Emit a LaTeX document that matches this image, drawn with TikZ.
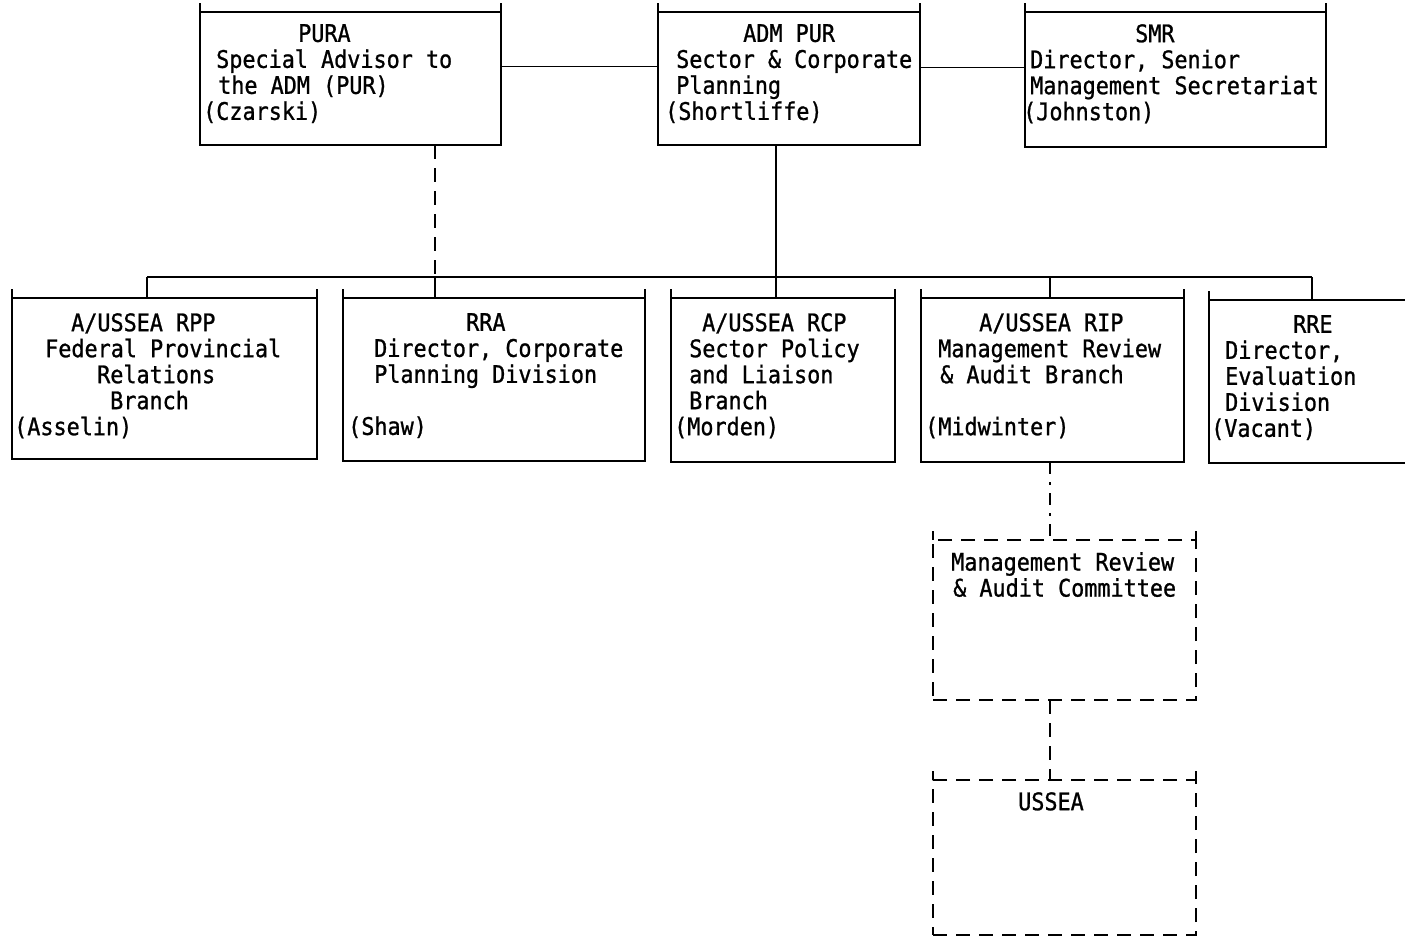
\documentclass[tikz,border=0pt]{standalone}
\usepackage{fontspec}
\setmonofont[FakeStretch=0.9, FakeBold=1]{DejaVu Sans Mono}
\usetikzlibrary{positioning,calc}
\newcommand{\tb}[1]{\hspace*{#1pt}}

\begin{document}
\begin{tikzpicture}[
    x=1pt, y=-1pt,
    font=\ttfamily\fontsize{24.2}{26}\selectfont,
    orgbox/.style={draw, line width=1.8pt, inner sep=0pt, outer sep=0pt, anchor=north west},
    orgboxdash/.style={orgbox, dash pattern=on 14pt off 9pt},
    boxtext/.style={anchor=north west, align=left, inner sep=0pt},
    link/.style={line width=1.8pt},
    dashlink/.style={link, dash pattern=on 14pt off 9pt},
    dotlink/.style={link, dash pattern=on 12pt off 8pt on 3pt off 8pt}
]
    \useasboundingbox (0,0) rectangle (1405,938);

    % Top row
    \node[orgbox, minimum width=301pt, minimum height=133pt] (pura) at (200,12) {};
    \node[orgbox, minimum width=262pt, minimum height=133pt] (admpur) at (658,12) {};
    \node[orgbox, minimum width=301pt, minimum height=135pt] (smr) at (1025,12) {};

    \node[boxtext] (puratext) at (203,24) {\tb{95}PURA\\\tb{13}Special Advisor to\\\tb{15}the ADM (PUR)\\(Czarski)};
    \node[boxtext] (admpurtext) at (665,24) {\tb{78}ADM PUR\\\tb{11}Sector \& Corporate\\\tb{11}Planning\\(Shortliffe)};
    \node[boxtext] (smrtext) at (1023,24) {\tb{112}SMR\\\tb{7}Director, Senior\\\tb{7}Management Secretariat\\(Johnston)};

    % Bottom row
    \node[orgbox, minimum width=305pt, minimum height=161pt] (rpp) at (12,298) {};
    \node[orgbox, minimum width=302pt, minimum height=163pt] (rra) at (343,298) {};
    \node[orgbox, minimum width=224pt, minimum height=164pt] (rcp) at (671,298) {};
    \node[orgbox, minimum width=263pt, minimum height=164pt] (rip) at (921,298) {};
    \node[orgbox, minimum width=210pt, minimum height=163pt] (rre) at (1209,300) {};

    \node[boxtext] (rpptext) at (14,313) {\tb{57}A/USSEA RPP\\\tb{31}Federal Provincial\\\tb{83}Relations\\\tb{96}Branch\\(Asselin)};
    \node[boxtext] (rratext) at (348,313) {\tb{118}RRA\\\tb{26}Director, Corporate\\\tb{26}Planning Division\\[26pt](Shaw)};
    \node[boxtext] (rcptext) at (674,313) {\tb{28}A/USSEA RCP\\\tb{15}Sector Policy\\\tb{15}and Liaison\\\tb{15}Branch\\(Morden)};
    \node[boxtext] (riptext) at (925,313) {\tb{54}A/USSEA RIP\\\tb{13}Management Review\\\tb{15}\& Audit Branch\\[26pt](Midwinter)};
    \node[boxtext] (rretext) at (1211,315) {\tb{82}RRE\\\tb{14}Director,\\\tb{14}Evaluation\\\tb{14}Division\\(Vacant)};

    % Committee and USSEA
    \node[orgboxdash, minimum width=263pt, minimum height=160pt] (mrac) at (933,540) {};
    \node[orgboxdash, minimum width=263pt, minimum height=155pt] (ussea) at (933,780) {};

    \node[boxtext] (mractext) at (951,552) {Management Review\\\tb{2}\& Audit Committee};
    \node[boxtext] (usseatext) at (1018,792) {USSEA};

    % corner ticks
    \foreach \b in {pura,admpur,smr,rpp,rra,rcp,rip,rre,mrac,ussea}
        \draw[link] (\b.north west) -- ++(0,-9) (\b.north east) -- ++(0,-9);

    % Links
    \coordinate (busL) at (147,277);
    \coordinate (busR) at (1312,277);
    \coordinate (pdrop) at (435,277);
    \coordinate (adrop) at (776,277);
    \coordinate (rdrop) at (1050,277);

    \draw[link] ([yshift=12pt]pura.east) -- ([yshift=12pt]admpur.west);
    \draw[link] ([yshift=11pt]admpur.east) -- ([yshift=12pt]smr.west);
    \draw[link] (busL) -- (busR);
    \draw[dashlink] (pura.south -| pdrop) -- (pdrop);
    \draw[link] (pdrop) -- (rra.north -| pdrop);
    \draw[link] (admpur.south -| adrop) -- (rcp.north -| adrop);
    \draw[link] (busL) -- (rpp.north -| busL);
    \draw[link] (rdrop) -- (rip.north -| rdrop);
    \draw[link] (busR) -- (rre.north -| busR);
    \draw[dotlink] (rip.south -| rdrop) -- (mrac.north -| rdrop);
    \draw[dashlink] (mrac.south -| rdrop) -- (ussea.north -| rdrop);
\end{tikzpicture}
\end{document}
